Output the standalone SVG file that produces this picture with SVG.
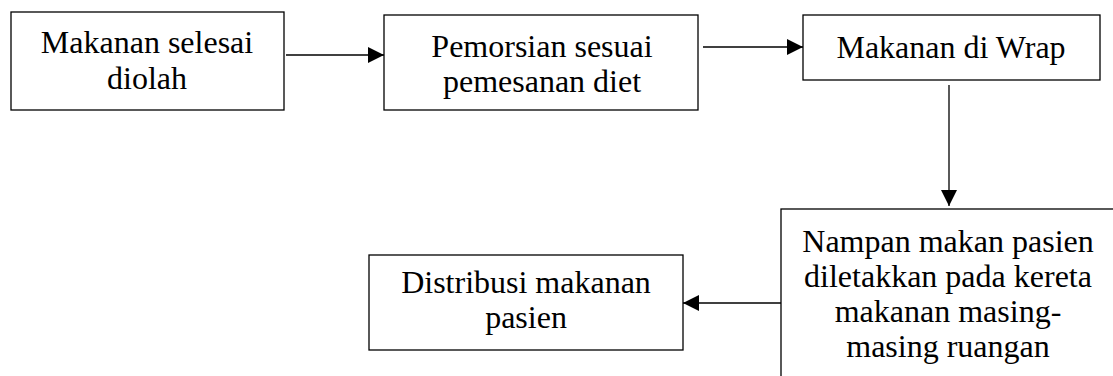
<svg xmlns="http://www.w3.org/2000/svg" width="1113" height="376" viewBox="0 0 1113 376">
  <style>
    .box { fill: #ffffff; stroke: #000000; stroke-width: 1.3; }
    .lbl { font-family: "Liberation Serif", "Times New Roman", serif; font-size: 32px; fill: #000000; text-anchor: middle; }
    .edge { fill: none; stroke: #000000; stroke-width: 1.3; }
  </style>
  <defs>
    <marker id="arrow" viewBox="0 0 16 16" refX="16" refY="8" markerWidth="16" markerHeight="16" markerUnits="userSpaceOnUse" orient="auto">
      <path d="M0,0 L16,8 L0,16 Z" fill="#000000"/>
    </marker>
  </defs>
  <rect width="1113" height="376" fill="#ffffff"/>

  <g id="node-selesai-diolah">
    <rect class="box" x="11" y="12" width="273" height="98"/>
    <text class="lbl" x="147" y="53">Makanan selesai</text>
    <text class="lbl" x="147" y="89">diolah</text>
  </g>

  <g id="node-pemorsian">
    <rect class="box" x="384" y="15" width="314" height="95"/>
    <text class="lbl" x="542" y="57">Pemorsian sesuai</text>
    <text class="lbl" x="542" y="92">pemesanan diet</text>
  </g>

  <g id="node-wrap">
    <rect class="box" x="803" y="15" width="297" height="65"/>
    <text class="lbl" x="951" y="58">Makanan di Wrap</text>
  </g>

  <g id="node-nampan">
    <rect class="box" x="781" y="209" width="334" height="180"/>
    <text class="lbl" x="948" y="252">Nampan makan pasien</text>
    <text class="lbl" x="948" y="287">diletakkan pada kereta</text>
    <text class="lbl" x="948" y="322">makanan masing-</text>
    <text class="lbl" x="948" y="357">masing ruangan</text>
  </g>

  <g id="node-distribusi">
    <rect class="box" x="369" y="255" width="314" height="95"/>
    <text class="lbl" x="526" y="293">Distribusi makanan</text>
    <text class="lbl" x="526" y="328">pasien</text>
  </g>

  <g id="connectors">
    <line class="edge" x1="286" y1="55" x2="384" y2="55" marker-end="url(#arrow)"/>
    <line class="edge" x1="703" y1="47" x2="803" y2="47" marker-end="url(#arrow)"/>
    <line class="edge" x1="949" y1="85" x2="949" y2="206" marker-end="url(#arrow)"/>
    <line class="edge" x1="781" y1="303" x2="683" y2="303" marker-end="url(#arrow)"/>
  </g>
</svg>
